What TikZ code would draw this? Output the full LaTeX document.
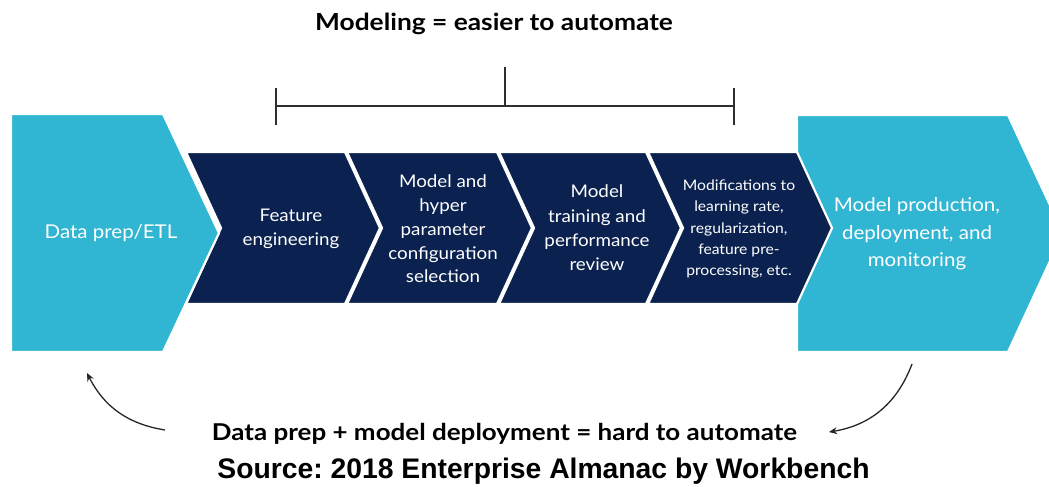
\documentclass[tikz,border=0pt]{standalone}
\usepackage{fontspec}
\setmainfont{Lato}
\newfontfamily\srcfont{Liberation Sans}
\newfontfamily\headfont{Lato}[FakeStretch=1.12]
\newfontfamily\shapefont{Lato}[FakeStretch=1.08]
\usetikzlibrary{arrows.meta}
\definecolor{lightb}{HTML}{30B5D2}
\definecolor{darkb}{HTML}{0B2250}
\definecolor{brk}{HTML}{2E2E2E}
\tikzset{
  chev/.style={fill=darkb,draw=white,line width=2.2pt,line join=miter},
  bigshape/.style={fill=lightb,draw=white,line width=2.2pt,line join=miter},
  intext/.style={text=white,align=center,inner sep=0pt},
  brline/.style={draw=brk,line width=1.4pt},
  cyc/.style={draw=black!85,line width=1.3pt,-{Stealth[length=8pt,width=7pt]}},
}
\frenchspacing
\begin{document}
\begin{tikzpicture}[x=1pt,y=-1pt]
\useasboundingbox (0,0) rectangle (1049,487);
\begin{scope}
\clip (0,0) rectangle (1049,487);
% right light shape
\path[bigshape] (797,115) -- (1008,115) -- (1063,233) -- (1008,352) -- (797,352) -- cycle;
% dark chevrons
\path[chev] (648,152) -- (797,152) -- (832,228) -- (797,304) -- (648,304) -- (683,228) -- cycle;
\path[chev] (499,152) -- (646,152) -- (681,228) -- (646,304) -- (499,304) -- (534,228) -- cycle;
\path[chev] (347,152) -- (497,152) -- (532,228) -- (497,304) -- (347,304) -- (382,228) -- cycle;
\path[chev] (186,152) -- (345,152) -- (380,228) -- (345,304) -- (186,304) -- (221,228) -- cycle;
% left light shape
\path[bigshape] (11,114) -- (163,114) -- (219,233) -- (163,352) -- (11,352) -- cycle;
\end{scope}
% texts in shapes
\node[intext,font=\shapefont\fontsize{19}{24}\selectfont] (etl) at (111,233) {Data prep/ETL};
\node[intext,font=\shapefont\fontsize{17.4}{24}\selectfont] (fe) at (291,229) {Feature\\engineering};
\node[intext,font=\shapefont\fontsize{17.4}{23.7}\selectfont] (mh) at (443,229) {Model and\\hyper\\parameter\\configuration\\selection};
\node[intext,font=\shapefont\fontsize{17.4}{24.3}\selectfont] (mt) at (597,228) {Model\\training and\\performance\\review};
\node[intext,font=\shapefont\fontsize{14.5}{21.2}\selectfont] (mod) at (739,229) {Modifications to\\learning rate,\\regularization,\\feature pre-\\processing, etc.};
\node[intext,font=\shapefont\fontsize{19}{27.5}\selectfont] (mp) at (917,234) {Model production,\\deployment, and\\monitoring};
% bracket
\coordinate (bl) at (276,106);
\coordinate (br) at (734,106);
\coordinate (bm) at (505,106);
\coordinate (blt) at (276,88);
\coordinate (blb) at (276,125);
\coordinate (brt) at (734,88);
\coordinate (brb) at (734,125);
\coordinate (bmt) at (505,67);
\draw[brline] (bl) -- (br);
\draw[brline] (blt) -- (blb);
\draw[brline] (brt) -- (brb);
\draw[brline] (bmt) -- (bm);
% title
\node[inner sep=0pt,font=\headfont\fontsize{23.5}{27}\bfseries\selectfont] (title) at (494,24) {Modeling = easier to automate};
% bottom texts
\node[inner sep=0pt,font=\headfont\fontsize{23.2}{26}\bfseries\selectfont] (hard) at (504.5,434) {Data prep + model deployment = hard to automate};
\node[inner sep=0pt,font=\srcfont\fontsize{28.3}{32}\bfseries\selectfont] (src) at (543.5,471) {Source: 2018 Enterprise Almanac by Workbench};
% cycle arrows
\coordinate (la1) at (165,430);
\coordinate (la2) at (87,373);
\coordinate (ra1) at (912,364);
\coordinate (ra2) at (829,432);
\draw[cyc] (la1) to[bend left=27] (la2);
\draw[cyc] (ra1) to[bend left=30] (ra2);
\end{tikzpicture}
\end{document}
